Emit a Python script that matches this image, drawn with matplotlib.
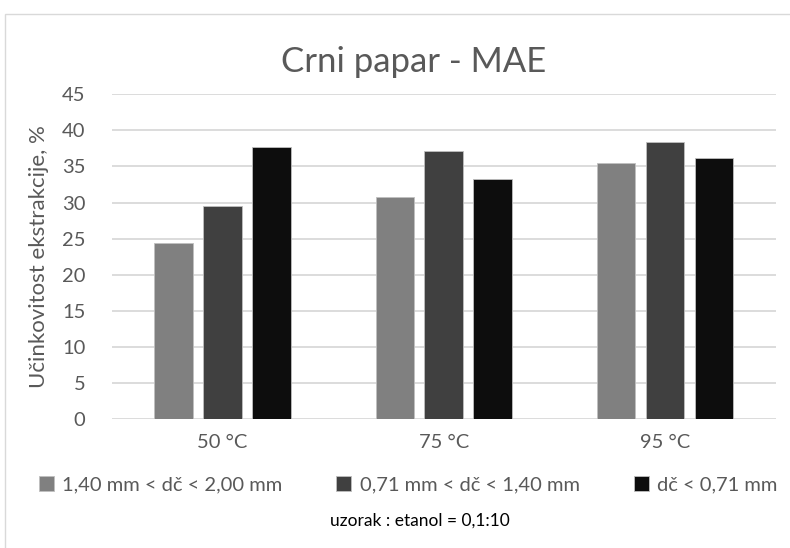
import matplotlib
matplotlib.use("Agg")
import matplotlib.pyplot as plt
import numpy as np
from matplotlib.patches import Rectangle

categories = ["50 °C", "75 °C", "95 °C"]
series_names = ["1,40 mm < dč < 2,00 mm", "0,71 mm < dč < 1,40 mm", "dč < 0,71 mm"]
s1 = [24.4, 30.8, 35.5]
s2 = [29.5, 37.1, 38.4]
s3 = [37.7, 33.3, 36.2]
colors = ["#808080", "#404040", "#0d0d0d"]
yticks = [0, 5, 10, 15, 20, 25, 30, 35, 40, 45]

plt.rcParams['font.family'] = ['Lato', 'DejaVu Sans']
txt = "#595959"

fig = plt.figure(figsize=(7.9, 5.48), dpi=100)
W, H = 790, 548
# chart border
fig.patches.append(Rectangle((5 / W, -0.2), 1.2, 1.2 - 14 / H, transform=fig.transFigure,
                             fill=False, edgecolor="#d9d9d9", linewidth=1))

ax = fig.add_axes([111.7 / W, 1 - 419 / H, 664 / W, 324.7 / H])
x = np.arange(len(categories))
bw = 0.174
step = 0.221
for i, (vals, c, n) in enumerate(zip([s1, s2, s3], colors, series_names)):
    ax.bar(x + (i - 1) * step, vals, width=bw, color=c, edgecolor="#bfbfbf",
           linewidth=0.6, label=n, zorder=3)

ax.set_xlim(-0.5, 2.5)
ax.set_ylim(0, 45)
ax.set_yticks(yticks)
ax.set_xticks(x)
ax.set_xticklabels(categories)
ax.yaxis.grid(True, color="#d9d9d9", linewidth=1.3, zorder=0)
for s in ax.spines.values():
    s.set_visible(False)
ax.tick_params(axis="both", length=0, colors=txt, labelsize=14.5)
ax.tick_params(axis="y", pad=19)
ax.tick_params(axis="x", pad=11)
ax.set_ylabel("Učinkovitost ekstrakcije, %", color=txt, fontsize=16, labelpad=9)

fig.text(414 / W, 1 - 62 / H, "Crni papar - MAE", ha="center", va="center",
         fontsize=25, color=txt)

leg = fig.legend(loc="center", bbox_to_anchor=(408 / W, 1 - 485 / H), ncol=3,
                 frameon=False, fontsize=14.5, handlelength=0.75, handleheight=0.75,
                 handletextpad=0.4, columnspacing=2.7, labelcolor=txt)

fig.text(420 / W, 1 - 521 / H, "uzorak : etanol = 0,1:10", ha="center", va="center",
         fontsize=12.5, color="black")

fig.savefig("out.png", dpi=100)
